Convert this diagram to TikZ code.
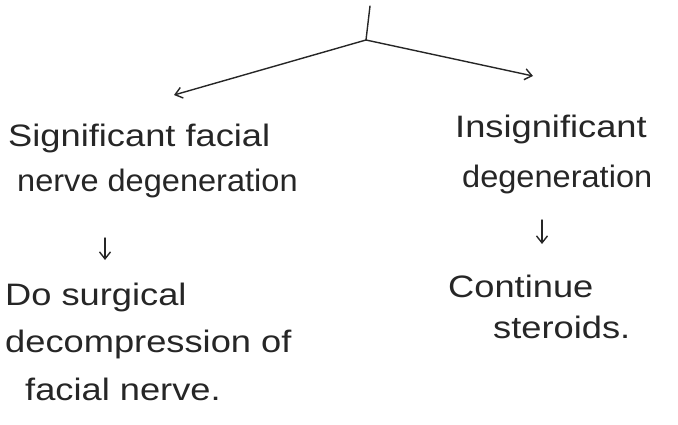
\documentclass[tikz,border=0pt]{standalone}
\usepackage{fontspec}
\setmainfont{Liberation Sans}[FakeStretch=1.17]
\newfontfamily\narrowhand{Liberation Sans}[FakeStretch=1.05]
\usetikzlibrary{arrows.meta}
\begin{document}
\begin{tikzpicture}[x=1pt,y=-1pt,
  ink/.style={draw=black!85, line width=1.4pt, line cap=round},
  link/.style={ink, -{Straight Barb[length=7pt,width=11pt]}},
  note/.style={inner sep=0pt, anchor=base west, font=\fontsize{31}{36}\selectfont, text=black!85},
  tight/.style={note, font=\fontsize{31}{36}\narrowhand}]
  \useasboundingbox (0,0) rectangle (678,425);

  % branching point
  \coordinate (top) at (370,6);
  \coordinate (fork) at (366,40);
  \coordinate (lend) at (174,95);
  \coordinate (rend) at (533,76);

  % left branch
  \node[note] (sig1) at (8,147) {Significant facial};
  \node[tight] (sig2) at (17,192) {nerve degeneration};
  \node[note] (surg1) at (5,305) {Do surgical};
  \node[note] (surg2) at (5,352) {decompression of};
  \node[note] (surg3) at (25,400) {facial nerve.};

  % right branch
  \node[note] (ins1) at (455,138) {Insignificant};
  \node[tight] (ins2) at (462,188) {degeneration};
  \node[note] (cont1) at (448,297) {Continue};
  \node[note] (cont2) at (493,338) {steroids.};

  \coordinate (la) at (105,238);
  \coordinate (lb) at (105,260);
  \coordinate (ra) at (542,220);
  \coordinate (rb) at (542,244);

  \draw[ink] (top) -- (fork);
  \draw[link] (fork) -- (lend);
  \draw[link] (fork) -- (rend);
  \draw[link] (la) -- (lb);
  \draw[link] (ra) -- (rb);
\end{tikzpicture}
\end{document}
